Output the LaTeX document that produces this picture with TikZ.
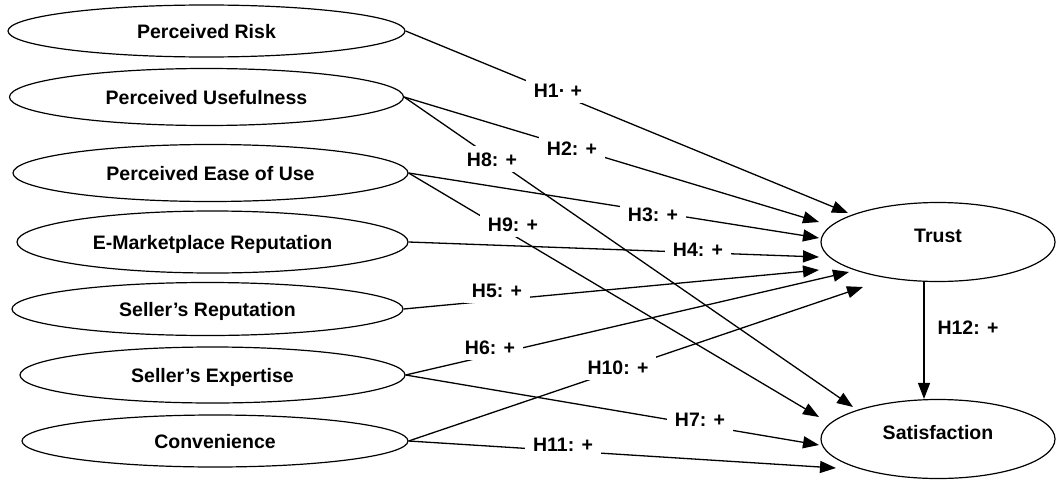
\documentclass[tikz,border=0pt]{standalone}
\usepackage{fontspec}
\setmainfont{Liberation Sans}
\usetikzlibrary{shapes.geometric,arrows.meta}
\begin{document}
\begin{tikzpicture}[x=1pt,y=-1pt,
  every node/.style={font=\fontsize{19.5}{22}\selectfont\bfseries},
  lv/.style={ellipse,draw,line width=1.2pt,inner sep=0pt,text height=14pt,text depth=0pt},
  rv/.style={ellipse,draw,line width=1.2pt,inner sep=0pt,minimum width=234pt,minimum height=79pt,text height=14pt,text depth=14pt},
  hyp/.style={fill=white,inner xsep=8pt,inner ysep=6pt,text height=14pt,text depth=0pt},
  conn/.style={line width=1.3pt},
  arr/.style={line width=1.3pt,-{Triangle[length=16pt,width=12pt]}}]
\useasboundingbox (0,0) rectangle (1057,479);
% latent variables (left)
\node[lv,minimum width=397pt,minimum height=52pt] (PR) at (206.5,31) {Perceived Risk};
\node[lv,minimum width=394pt,minimum height=57pt] (PU) at (206.5,97) {Perceived Usefulness};
\node[lv,minimum width=395pt,minimum height=57pt] (PE) at (210.5,173) {Perceived Ease of Use};
\node[lv,minimum width=391pt,minimum height=62pt] (EM) at (212.5,242) {E-Marketplace Reputation};
\node[lv,minimum width=391pt,minimum height=53pt] (SR) at (207.5,309) {Seller’s Reputation};
\node[lv,minimum width=385pt,minimum height=56pt] (SE) at (212.5,375) {Seller’s Expertise};
\node[lv,minimum width=386pt,minimum height=52pt] (CV) at (215,441) {Convenience};
% outcomes
\node[rv] (T) at (938,242) {Trust};
\node[rv] (S) at (938,439) {Satisfaction};
% arrow targets
\coordinate (t1) at (848,213);
\coordinate (t2) at (819,222);
\coordinate (t3) at (819,238);
\coordinate (t4) at (819,257);
\coordinate (t5) at (819,270);
\coordinate (t6) at (849,272);
\coordinate (t10) at (863,287);
\coordinate (s8) at (853,407);
\coordinate (s9) at (819,417);
\coordinate (s7) at (819,445);
\coordinate (s11) at (836,468);
% connectors
\draw[arr] (PR.east) -- (t1);
\draw[arr] (PU.east) -- (t2);
\draw[arr] (PU.east) -- (s8);
\draw[arr] (PE.east) -- (t3);
\draw[arr] (PE.east) -- (s9);
\draw[arr] (EM.east) -- (t4);
\draw[arr] (SR.east) -- (t5);
\draw[arr] (SE.east) -- (t6);
\draw[arr] (SE.east) -- (s7);
\draw[arr] (CV.east) -- (t10);
\draw[arr] (CV.east) -- (s11);
\draw[arr] ([xshift=-14pt]T.south) -- ([xshift=-14pt]S.north);
% hypothesis labels
\node[hyp] (h1) at (558,90) {H1· +};
\node[hyp] (h2) at (572,148) {H2: +};
\node[hyp] (h8) at (492,159) {H8: +};
\node[hyp] (h3) at (653,214) {H3: +};
\node[hyp] (h9) at (513,224) {H9: +};
\node[hyp] (h4) at (698,249) {H4: +};
\node[hyp] (h5) at (497,290) {H5: +};
\node[hyp] (h6) at (490,347) {H6: +};
\node[hyp] (h10) at (618,367) {H10: +};
\node[hyp] (h7) at (700,419) {H7: +};
\node[hyp] (h11) at (563,444) {H11: +};
\node[hyp] (h12) at (968,327) {H12: +};
\end{tikzpicture}
\end{document}
